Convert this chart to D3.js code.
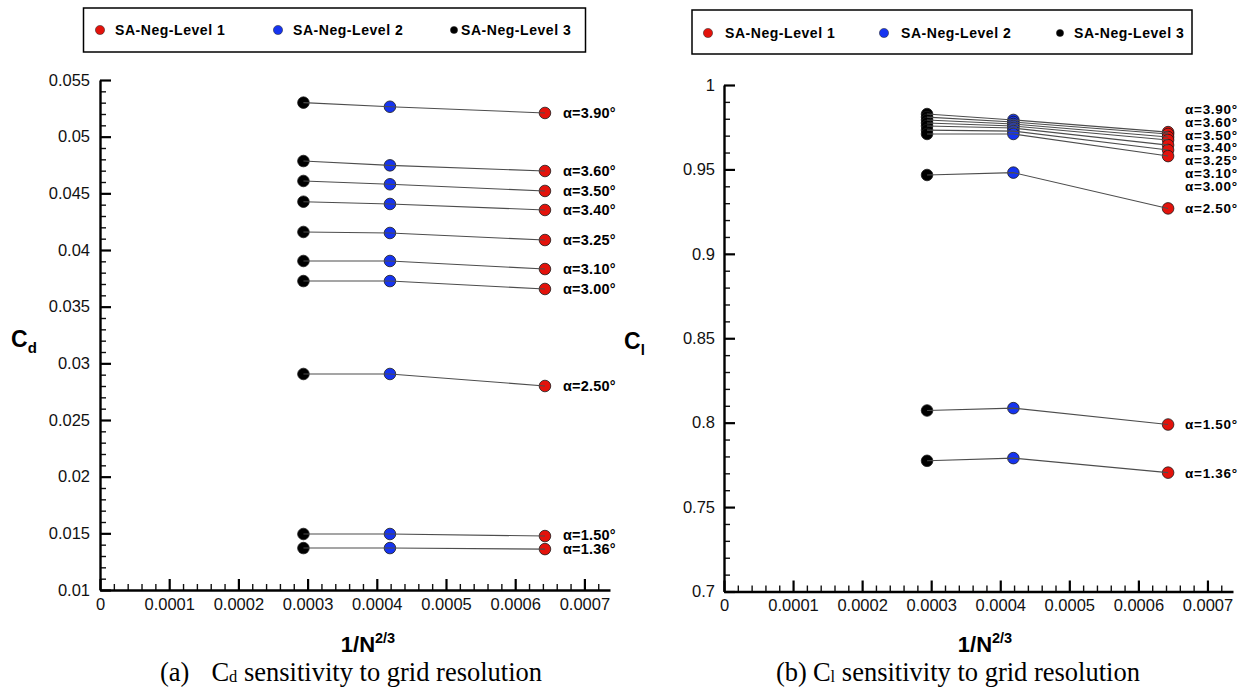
<!DOCTYPE html>
<html>
<head>
<meta charset="utf-8">
<script src="https://cdn.jsdelivr.net/npm/d3@7"></script>
<style>
  body { margin: 0; background: #fff; }
  svg { display: block; }
</style>
</head>
<body>
<svg id="fig" width="1249" height="691"></svg>
<script>
// ---- data -------------------------------------------------------------
// grid levels (coarse -> fine) and their abscissa 1/N^(2/3)
const levelNames = ["SA-Neg-Level 1", "SA-Neg-Level 2", "SA-Neg-Level 3"];
const invN23 = [0.000643, 0.000419, 0.000294];

const alphaLabels = ["α=3.90°", "α=3.60°", "α=3.50°", "α=3.40°", "α=3.25°",
                     "α=3.10°", "α=3.00°", "α=2.50°", "α=1.50°", "α=1.36°"];

// drag coefficient per angle of attack
const cdLevel1 = [0.05209, 0.04697, 0.04521, 0.04353, 0.04088, 0.03832, 0.03656, 0.02800, 0.01476, 0.01361];
const cdLevel2 = [0.05264, 0.04747, 0.04580, 0.04406, 0.04150, 0.03903, 0.03726, 0.02906, 0.01494, 0.01370];
const cdLevel3 = [0.05300, 0.04785, 0.04609, 0.04426, 0.04159, 0.03903, 0.03726, 0.02906, 0.01494, 0.01370];

// lift coefficient per angle of attack
const clLevel1 = [0.9721, 0.9710, 0.9692, 0.9674, 0.9644, 0.9615, 0.9579, 0.9269, 0.7989, 0.7704];
const clLevel2 = [0.9793, 0.9781, 0.9769, 0.9757, 0.9745, 0.9727, 0.9710, 0.9481, 0.8086, 0.7790];
const clLevel3 = [0.9828, 0.9810, 0.9793, 0.9775, 0.9757, 0.9733, 0.9710, 0.9467, 0.8072, 0.7774];

// axis ticks
const xTicks  = [0, 0.0001, 0.0002, 0.0003, 0.0004, 0.0005, 0.0006, 0.0007];
const cdTicks = [0.01, 0.015, 0.02, 0.025, 0.03, 0.035, 0.04, 0.045, 0.05, 0.055];
const clTicks = [0.7, 0.75, 0.8, 0.85, 0.9, 0.95, 1];

// ---- drawing ------------------------------------------------------------
const svg = d3.select("#fig");
svg.append("rect").attr("width", 1249).attr("height", 691).attr("fill", "#fff");

const SANS = "'Liberation Sans', Arial, sans-serif";
const SERIF = "'Liberation Serif', 'Times New Roman', serif";
const levelColors = ["#e3120b", "#1634f0", "#000000"];

function drawPanel(o) {
  const g = svg.append("g");
  const x = d3.scaleLinear().domain([0, 0.000737]).range([o.left, o.right]);
  const y = d3.scaleLinear().domain([o.yTicks[0], o.yTicks[o.yTicks.length - 1]]).range([o.bottom, o.top]);

  // minor ticks (x every 0.00002, y every fifth of a major step)
  const xMinor = d3.range(0, 37).filter(i => i % 5 !== 0).map(i => i * 0.00002);
  const yStep = (o.yTicks[1] - o.yTicks[0]) / 5;
  const nY = Math.round((o.yTicks[o.yTicks.length - 1] - o.yTicks[0]) / yStep);
  const yMinor = d3.range(0, nY + 1).filter(i => i % 5 !== 0).map(i => o.yTicks[0] + i * yStep);

  const xMinorAxis = g.append("g").attr("transform", `translate(0,${o.bottom})`)
    .call(d3.axisBottom(x).tickValues(xMinor).tickSize(-6).tickSizeOuter(0).tickFormat(""));
  const yMinorAxis = g.append("g").attr("transform", `translate(${o.left},0)`)
    .call(d3.axisLeft(y).tickValues(yMinor).tickSize(-6).tickSizeOuter(0).tickFormat(""));
  [xMinorAxis, yMinorAxis].forEach(a => {
    a.select(".domain").remove();
    a.selectAll("line").attr("stroke", "#111").attr("stroke-width", 1.4);
  });

  const xAxis = g.append("g").attr("transform", `translate(0,${o.bottom})`)
    .call(d3.axisBottom(x).tickValues(xTicks).tickSize(-11).tickSizeOuter(0)
      .tickPadding(8).tickFormat(d3.format(".4~f")));
  const yAxis = g.append("g").attr("transform", `translate(${o.left},0)`)
    .call(d3.axisLeft(y).tickValues(o.yTicks).tickSize(-11).tickSizeOuter(0)
      .tickPadding(o.yPad).tickFormat(d3.format(o.yFmt)));
  [xAxis, yAxis].forEach(a => {
    a.select(".domain").attr("stroke", "#000").attr("stroke-width", 2.4);
    a.selectAll(".tick line").attr("stroke", "#000").attr("stroke-width", 2.2);
    a.selectAll(".tick text").attr("fill", "#111").style("font-family", SANS).style("font-size", "16.5px");
  });

  // axis titles
  const yl = g.append("text").attr("x", o.yLabelX).attr("y", o.yLabelY)
    .style("font-family", SANS).style("font-weight", "bold").style("font-size", "23px").attr("fill", "#000");
  yl.append("tspan").text("C");
  yl.append("tspan").attr("dy", 6).style("font-size", "15px").text(o.ySub);

  const xl = g.append("text").attr("x", o.xTitleX).attr("y", 652).attr("text-anchor", "middle")
    .style("font-family", SANS).style("font-weight", "bold").style("font-size", "22px").attr("fill", "#000");
  xl.append("tspan").text("1/N");
  xl.append("tspan").attr("dy", -9).style("font-size", "14.5px").text("2/3");

  // caption
  const cap = g.append("text").attr("x", o.capX).attr("y", 681)
    .style("font-family", SERIF).style("font-size", o.capSize).attr("fill", "#000");
  cap.append("tspan").text(o.capPrefix);
  cap.append("tspan").attr("dx", o.capGap).text("C");
  cap.append("tspan").attr("dy", 1).style("font-size", "16.5px").text(o.ySub);
  cap.append("tspan").attr("dy", -1).text(" sensitivity to grid resolution");

  // series per angle of attack: Level 3 -> Level 2 -> Level 1
  const series = o.l1.map((_, i) => [
    { lv: 2, x: invN23[2], y: o.l3[i] },
    { lv: 1, x: invN23[1], y: o.l2[i] },
    { lv: 0, x: invN23[0], y: o.l1[i] }
  ]);

  const dots = g.append("g");
  series.forEach(s => {
    dots.selectAll(null).data(s).join("circle")
      .attr("cx", d => x(d.x)).attr("cy", d => y(d.y)).attr("r", 5.8)
      .attr("fill", d => levelColors[d.lv]).attr("stroke", "#1a1a1a").attr("stroke-width", 0.8);
  });
  const line = d3.line().x(d => x(d.x)).y(d => y(d.y));
  g.append("g").selectAll("path").data(series).join("path")
    .attr("d", line).attr("fill", "none").attr("stroke", "#4d4d4d").attr("stroke-width", 1.1);

  // angle labels next to the coarse-grid points, stacked where they would collide
  const items = o.l1.map((v, i) => ({ i, want: y(v) })).sort((a, b) => a.want - b.want);
  let groups = items.map(it => ({ members: [it] }));
  const place = gr => {
    const mean = d3.mean(gr.members, m => m.want) + (gr.members.length > 1 ? o.stackShift : 0);
    gr.top = mean - (gr.members.length - 1) * o.gap / 2;
    gr.bottom = gr.top + (gr.members.length - 1) * o.gap;
  };
  groups.forEach(place);
  let merged = true;
  while (merged) {
    merged = false;
    for (let k = 0; k < groups.length - 1; k++) {
      if (groups[k + 1].top - groups[k].bottom < o.gap) {
        groups[k].members = groups[k].members.concat(groups[k + 1].members);
        groups.splice(k + 1, 1);
        place(groups[k]);
        merged = true;
        break;
      }
    }
  }
  const labelled = [];
  groups.forEach(gr => gr.members.forEach((m, j) => labelled.push({ i: m.i, ly: gr.top + j * o.gap })));
  g.append("g").selectAll("text").data(labelled).join("text")
    .attr("x", x(invN23[0]) + o.labelDx).attr("y", d => d.ly).attr("dy", "0.36em")
    .style("font-family", SANS).style("font-weight", "bold").style("font-size", o.labelSize)
    .style("letter-spacing", o.labelSpacing).attr("fill", "#000")
    .text(d => alphaLabels[d.i]);

  // legend box
  const lg = g.append("g");
  lg.append("rect").attr("x", o.legend.x).attr("y", o.legend.y).attr("width", o.legend.w).attr("height", o.legend.h)
    .attr("fill", "#fff").attr("stroke", "#000").attr("stroke-width", 1.5);
  levelNames.forEach((name, k) => {
    lg.append("circle").attr("cx", o.legend.dots[k]).attr("cy", o.legend.cy).attr("r", k === 2 ? 3.6 : 4.6)
      .attr("fill", levelColors[k]).attr("stroke", "#222").attr("stroke-width", 0.5);
    lg.append("text").attr("x", o.legend.texts[k]).attr("y", o.legend.cy).attr("dy", "0.36em")
      .style("font-family", SANS).style("font-weight", "bold").style("font-size", "14px")
      .style("letter-spacing", "0.55px").attr("fill", "#000").text(name);
  });
}

drawPanel({
  left: 100, right: 610, top: 80, bottom: 590,
  yTicks: cdTicks, yFmt: ".3~f", yPad: 10,
  l1: cdLevel1, l2: cdLevel2, l3: cdLevel3,
  ySub: "d", yLabelX: 11, yLabelY: 347,
  xTitleX: 368, capX: 160, capPrefix: "(a)", capGap: 22, capSize: "26.5px",
  labelDx: 18, gap: 14, stackShift: -1, labelSize: "14.5px", labelSpacing: "0.2px",
  legend: { x: 83.5, y: 8, w: 502, h: 44, cy: 30, dots: [100, 278, 454], texts: [115, 293, 461] }
});

drawPanel({
  left: 724, right: 1233, top: 85, bottom: 591.5,
  yTicks: clTicks, yFmt: ".2~f", yPad: 9,
  l1: clLevel1, l2: clLevel2, l3: clLevel3,
  ySub: "l", yLabelX: 624, yLabelY: 349,
  xTitleX: 985, capX: 776, capPrefix: "(b)", capGap: 6, capSize: "26.5px",
  labelDx: 17, gap: 12.7, stackShift: 5.5, labelSize: "13.5px", labelSpacing: "0.7px",
  legend: { x: 692, y: 10, w: 500, h: 44, cy: 33, dots: [708, 884, 1060], texts: [725, 901, 1074] }
});
</script>
</body>
</html>
